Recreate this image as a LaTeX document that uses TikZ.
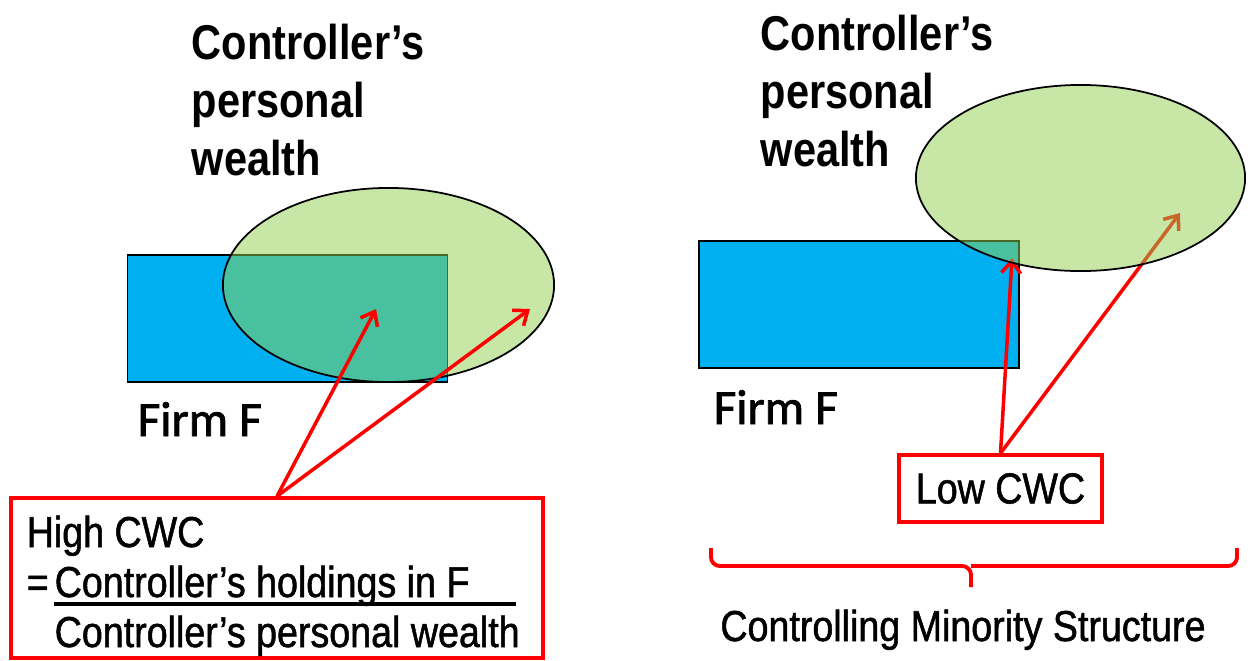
\documentclass[tikz,border=0pt]{standalone}
\usepackage{fontspec}
\setmainfont{Liberation Sans}[FakeStretch=0.85]
\newfontfamily\boxfont{Liberation Sans}[FakeStretch=0.87, FakeBold=1.2]
\newfontfamily\firmfont{Carlito}[FakeBold=1.5]
\usetikzlibrary{arrows.meta,shapes.geometric}

\definecolor{firmblue}{HTML}{00B0F0}
\definecolor{wealthgreen}{HTML}{92D050}

\begin{document}
\begin{tikzpicture}[x=0.01cm, y=-0.01cm,
  >={Straight Barb[length=3.5pt,width=5.5pt]},
  firm/.style={draw=black, line width=0.5pt, fill=firmblue, inner sep=0,
    minimum width=3.2cm, minimum height=1.27cm},
  wealth/.style={ellipse, draw=black, line width=0.5pt, fill=wealthgreen,
    fill opacity=0.5, inner sep=0},
  title/.style={anchor=north west, inner sep=0, align=left,
    font=\fontsize{13.9}{16.5}\selectfont\bfseries},
  label/.style={anchor=base west, inner sep=0, font=\boxfont\fontsize{12.3}{14}\selectfont},
  firmlabel/.style={anchor=base west, inner sep=0, font=\firmfont\fontsize{14}{16}\selectfont},
  redbox/.style={draw=red, line width=1pt, inner sep=0},
  pointer/.style={->, draw=red, line width=1pt}]

\useasboundingbox (0,0) rectangle (1251,660);

% left: high CWC
\node[title] (titleL) at (191,23) {Controller’s\\personal\\wealth};
\node[firm] (firmL) at (287.5,318.5) {};
\node[wealth, minimum width=3.31cm, minimum height=1.94cm] (wealthL) at (388.5,285) {};
\node[firmlabel] (firmnameL) at (137,436) {Firm F};

\node[redbox, minimum width=5.32cm, minimum height=1.6cm] (cwcbox) at (277,578) {};
\node[label] (high) at (26,547) {High CWC};
\node[label] (eq) at (26,597) {=};
\node[label] (num) at (54,597) {Controller’s holdings in F};
\node[label] (den) at (54,647) {Controller’s personal wealth};
\draw[line width=1pt] (54,604) -- (516,604);

\coordinate (overlapL) at (376,309);
\coordinate (wealthtipL) at (530,309);
\draw[pointer] (cwcbox.north) -- (overlapL);
\draw[pointer] (cwcbox.north) -- (wealthtipL);

% right: low CWC
\node[title] (titleR) at (760,14) {Controller’s\\personal\\wealth};
\node[firm] (firmR) at (859,304.5) {};
\node[firmlabel] (firmnameR) at (713,424) {Firm F};
\node[redbox, minimum width=2.03cm, minimum height=0.67cm, font=\boxfont\fontsize{12.3}{14}\selectfont] (lowbox) at (1000.5,488.5) {Low CWC};

\coordinate (overlapR) at (1012,258);
\coordinate (wealthtipR) at (1180,213);
\draw[pointer] (lowbox.north) -- (overlapR);
\draw[pointer] (lowbox.north) -- (wealthtipR);

\node[wealth, minimum width=3.29cm, minimum height=1.86cm] (wealthR) at (1080.5,178) {};

% brace under the right part
\coordinate (braceL) at (711,548);
\coordinate (braceR) at (1237,548);
\coordinate (barmid) at (971,566);
\coordinate (bracetip) at (971,587);
\draw[red, line width=1.1pt, rounded corners=2.5pt] (braceL) |- (barmid) -- (bracetip);
\draw[red, line width=1.1pt, rounded corners=2.5pt] (braceR) |- (barmid);
\node[label, anchor=base] (structure) at (963,641) {Controlling Minority Structure};

\end{tikzpicture}
\end{document}
